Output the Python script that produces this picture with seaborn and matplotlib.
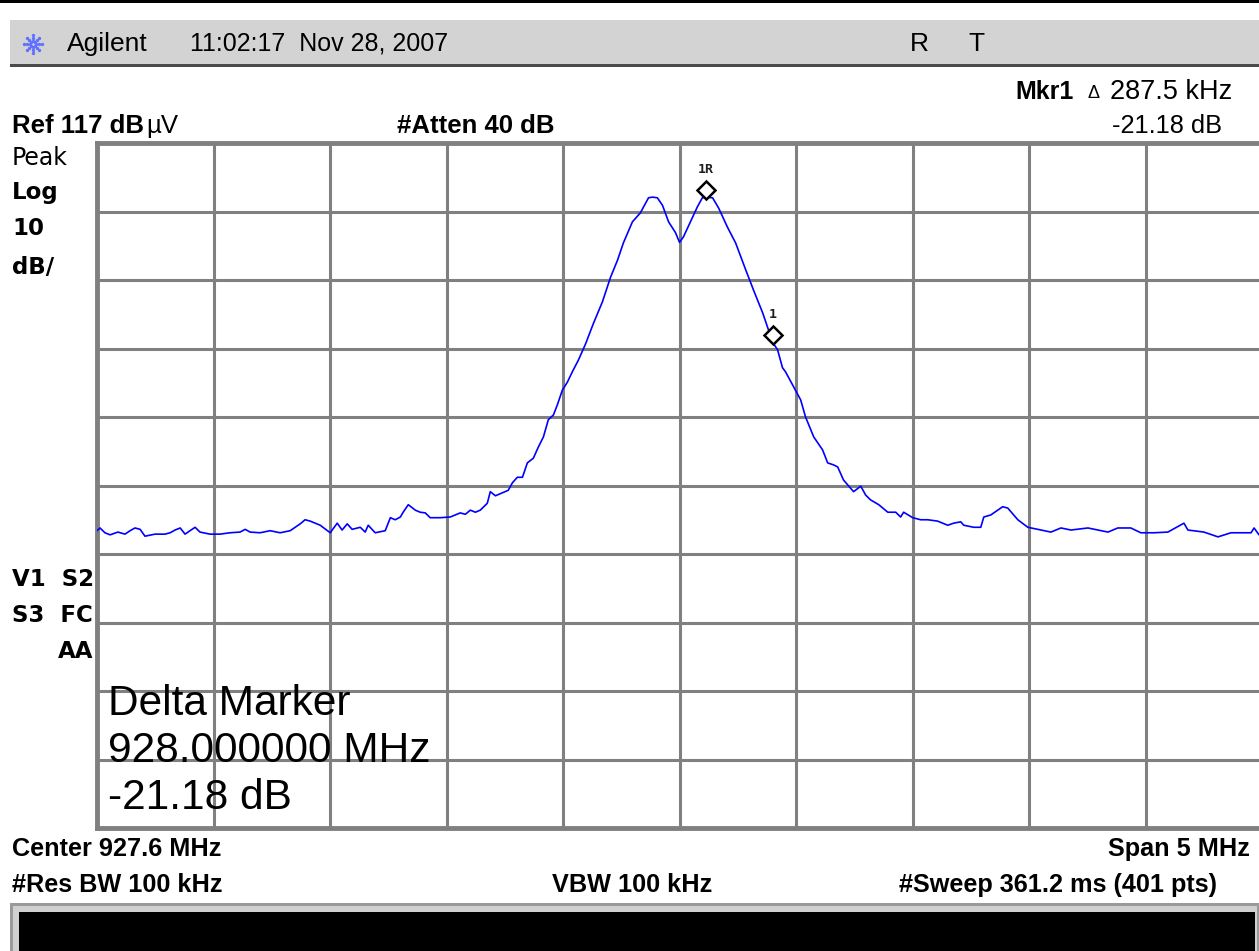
import matplotlib
matplotlib.use("Agg")
import matplotlib.pyplot as plt
import seaborn as sns
import pandas as pd
import numpy as np
from matplotlib.patches import Rectangle
from matplotlib import transforms

# ---------------- data ----------------
freq_mhz = [
    925.100, 925.113, 925.134, 925.156, 925.190, 925.220, 925.242, 925.263, 925.285, 925.306,
    925.349, 925.392, 925.414, 925.435, 925.457, 925.478, 925.499, 925.521, 925.542, 925.585,
    925.628, 925.671, 925.714, 925.736, 925.757, 925.800, 925.843, 925.886, 925.929, 925.972,
    925.993, 926.015, 926.058, 926.101, 926.131, 926.152, 926.174, 926.195, 926.230, 926.251,
    926.264, 926.294, 926.337, 926.359, 926.380, 926.402, 926.414, 926.436, 926.466, 926.487,
    926.509, 926.530, 926.573, 926.616, 926.638, 926.659, 926.681, 926.702, 926.724, 926.745,
    926.775, 926.788, 926.810, 926.831, 926.865, 926.883, 926.904, 926.926, 926.947, 926.973,
    926.994, 927.016, 927.037, 927.059, 927.076, 927.097, 927.119, 927.140, 927.166, 927.196,
    927.231, 927.269, 927.304, 927.334, 927.359, 927.398, 927.432, 927.454, 927.467, 927.484,
    927.505, 927.527, 927.553, 927.583, 927.600, 927.617, 927.647, 927.677, 927.698, 927.7125,
    927.742, 927.768, 927.806, 927.841, 927.884, 927.918, 927.957, 928.000, 928.021, 928.042,
    928.055, 928.090, 928.120, 928.141, 928.176, 928.214, 928.236, 928.262, 928.279, 928.304,
    928.347, 928.378, 928.399, 928.420, 928.455, 928.494, 928.528, 928.549, 928.562, 928.601,
    928.635, 928.665, 928.708, 928.751, 928.777, 928.807, 928.820, 928.863, 928.893, 928.906,
    928.936, 928.987, 929.009, 929.052, 929.095, 929.151, 929.194, 929.237, 929.280, 929.353,
    929.396, 929.439, 929.481, 929.537, 929.580, 929.636, 929.696, 929.765, 929.782, 929.851,
    929.911, 929.967, 930.053, 930.066, 930.087, 930.100,
]
level_dbuv = [
    60.4, 60.8, 60.1, 59.8, 60.2, 59.9, 60.4, 60.8, 60.6, 59.6,
    59.9, 59.9, 60.1, 60.5, 60.8, 59.9, 60.4, 60.9, 60.2, 59.9,
    59.9, 60.1, 60.2, 60.6, 60.2, 60.1, 60.4, 60.1, 60.4, 61.4,
    62.0, 61.8, 61.2, 60.1, 61.5, 60.5, 61.4, 60.6, 60.9, 60.2,
    61.2, 60.1, 60.4, 62.3, 62.0, 62.4, 63.1, 64.2, 63.4, 63.1,
    63.0, 62.3, 62.3, 62.4, 62.7, 63.0, 62.8, 63.4, 63.1, 63.4,
    64.4, 66.1, 65.5, 65.8, 66.3, 67.4, 68.2, 68.2, 70.3, 71.0,
    72.6, 74.1, 76.6, 77.3, 78.8, 80.9, 82.1, 83.6, 85.3, 87.6,
    90.7, 93.8, 97.4, 99.9, 102.4, 105.5, 106.8, 108.2, 109.0, 109.1,
    109.0, 107.9, 105.5, 103.9, 102.5, 103.3, 105.5, 107.7, 109.0, 109.1,
    109.0, 107.5, 104.7, 102.4, 98.5, 95.5, 92.2, 87.9, 86.8, 84.2,
    83.6, 81.4, 79.5, 77.0, 74.1, 72.2, 70.3, 70.0, 69.7, 67.8,
    66.1, 66.9, 65.6, 64.9, 64.2, 63.1, 63.1, 62.4, 63.1, 62.3,
    62.0, 62.0, 61.8, 61.2, 61.5, 61.7, 61.2, 60.9, 60.9, 62.4,
    62.7, 63.9, 63.7, 62.0, 60.9, 60.5, 60.2, 60.8, 60.5, 60.8,
    60.5, 60.2, 60.8, 60.8, 60.1, 60.1, 60.2, 61.5, 60.5, 60.2,
    59.5, 60.1, 60.1, 60.8, 59.8, 60.1,
]
marker_freq = [927.7125, 928.000]
marker_level = [109.1, 87.9]
marker_names = ["1R", "1"]

ref_level = 117
db_per_div = 10
center_mhz = 927.6
span_mhz = 5.0

# ---------------- figure ----------------
sns.set_theme(style="white")
plt.rcParams['font.family'] = ['Liberation Sans', 'DejaVu Sans']

W, H = 1259, 951
fig = plt.figure(figsize=(W / 100, H / 100), dpi=100)
fig.patch.set_facecolor('white')

def fx(px):
    return px / W

def fy(py):
    return 1 - py / H

def frect(x0, y0, x1, y1, color, z=0):
    fig.patches.append(Rectangle((fx(x0), fy(y1)), fx(x1) - fx(x0), fy(y0) - fy(y1),
                                 transform=fig.transFigure, facecolor=color,
                                 edgecolor='none', zorder=z))

# top black line and header band
frect(0, 0, W, 3, 'black')
frect(10, 20, W, 66, '#d3d3d3')
frect(10, 64, W, 67, '#4a4a4a')
# bottom bar
frect(10, 903, W, 951, '#9a9a9a')
frect(13, 906, W - 2, 951, '#d0d0d0')
frect(19, 912, W - 4, 951, 'black')

# graticule axes
ax = fig.add_axes([fx(97), fy(828), fx(1262) - fx(97), fy(143) - fy(828)])
df = pd.DataFrame({'freq': freq_mhz, 'level': level_dbuv})
sns.lineplot(data=df, x='freq', y='level', ax=ax, color='#0000ff', lw=1.2,
             zorder=3, estimator=None, sort=False)
ax.set_xlim(center_mhz - span_mhz / 2, center_mhz + span_mhz / 2)
ax.set_ylim(ref_level - 10 * db_per_div, ref_level)
ax.set_xticks(np.linspace(center_mhz - span_mhz / 2, center_mhz + span_mhz / 2, 11))
ax.set_yticks(np.arange(ref_level - 10 * db_per_div, ref_level + 1, db_per_div))
ax.grid(True, color='#808080', lw=2.2, zorder=1)
ax.set_axisbelow(True)
ax.tick_params(length=0, labelbottom=False, labelleft=False)
ax.set_xlabel('')
ax.set_ylabel('')
ax.set_facecolor('white')
for s in ax.spines.values():
    s.set_color('#808080')
    s.set_linewidth(3.5)

# markers: diamond sitting on the trace point
off = transforms.offset_copy(ax.transData, fig=fig, x=0, y=5, units='points')
ax.plot(marker_freq, marker_level, linestyle='none', marker='D', markersize=9,
        markerfacecolor='white', markeredgecolor='black', markeredgewidth=1.8,
        transform=off, zorder=5, clip_on=False)
lab = transforms.offset_copy(ax.transData, fig=fig, x=0, y=20, units='points')
for f, l, n in zip(marker_freq, marker_level, marker_names):
    ax.text(f, l, n, transform=lab, ha='center', va='center', fontsize=9.5,
            family='DejaVu Sans Mono', fontweight='bold', color='#202020', zorder=6)

# Agilent logo (small blue starburst)
cx, cy = 33, 44
for ang in np.arange(0, 360, 45):
    for r in (3, 6, 9):
        xs = cx + r * np.cos(np.radians(ang))
        ys = cy + r * np.sin(np.radians(ang))
        fig.add_artist(plt.Line2D([fx(xs)], [fy(ys)], marker='o', markersize=1.4,
                                  color='#6070ff', transform=fig.transFigure))

def T(x, y, s, size=16, weight='normal', ha='left', family=None, color='black'):
    kw = {}
    if family:
        kw['family'] = family
    fig.text(fx(x), fy(y), s, fontsize=size, fontweight=weight, ha=ha, va='center',
             color=color, **kw)

# header
T(67, 44, "Agilent", 19)
T(190, 44, "11:02:17  Nov 28, 2007", 18)
T(910, 44, "R", 19)
T(968, 44, "T", 19)

# marker readout
T(1015, 92, "Mkr1", 18, 'bold')
T(1088, 93, "Δ", 13)
T(1232, 92, "287.5 kHz", 19.5, ha='right')
T(1222, 126, "-21.18 dB", 18.3, ha='right')

# ref / atten
T(12, 126, "Ref 117 dB", 18.5, 'bold')
T(146, 126, "µV", 18.5)
T(397, 126, "#Atten 40 dB", 18.5, 'bold')

# left status column
T(12, 158, "Peak", 17, family=['DejaVu Sans'])
T(12, 193, "Log", 16.5, 'bold', family=['DejaVu Sans'])
T(12, 228, "10", 16.5, 'bold', family=['DejaVu Sans'])
T(12, 268, "dB/", 16.5, 'bold', family=['DejaVu Sans'])
T(12, 580, "V1  S2", 16.5, 'bold', family=['DejaVu Sans'])
T(12, 615, "S3  FC", 16.5, 'bold', family=['DejaVu Sans'])
T(93, 652, "AA", 16.5, 'bold', ha='right', family=['DejaVu Sans'])

# delta marker annotation
T(108, 704, "Delta Marker", 30.5)
T(108, 751, "928.000000 MHz", 30.5)
T(108, 798, "-21.18 dB", 30.5)

# bottom settings
T(12, 849, "Center 927.6 MHz", 18.2, 'bold')
T(1250, 849, "Span 5 MHz", 18.2, 'bold', ha='right')
T(12, 885, "#Res BW 100 kHz", 18.2, 'bold')
T(632, 885, "VBW 100 kHz", 18.2, 'bold', ha='center')
T(1217, 885, "#Sweep 361.2 ms (401 pts)", 18.2, 'bold', ha='right')

fig.savefig("out.png", dpi=100, facecolor='white')
